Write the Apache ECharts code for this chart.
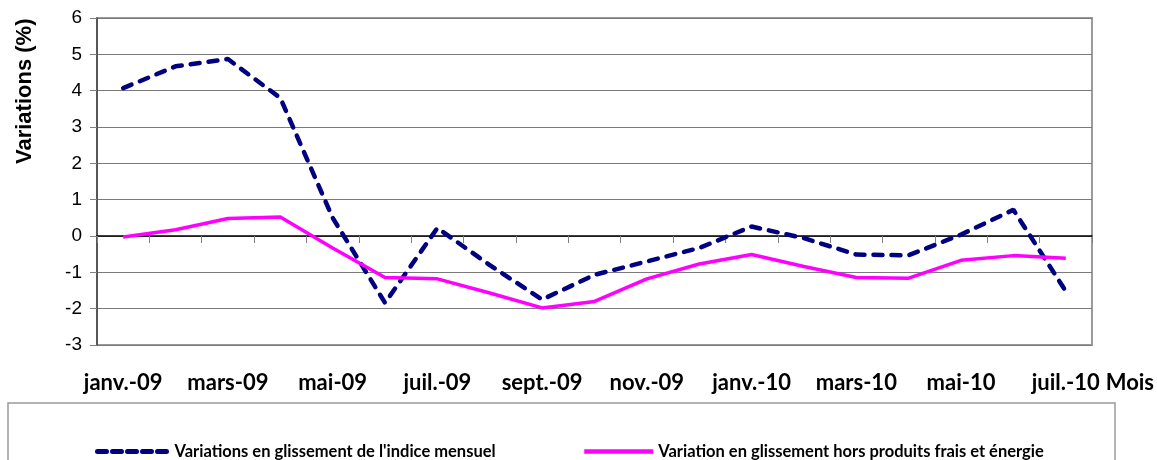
<!DOCTYPE html>
<html>
<head>
<meta charset="utf-8">
<script src="https://cdn.jsdelivr.net/npm/echarts@6/dist/echarts.min.js"></script>
<style>
  html, body { margin: 0; padding: 0; background: #fff; }
  #chart { width: 1157px; height: 460px; }
</style>
</head>
<body>
<div id="chart"></div>
<script>
// mois (axe des abscisses)
const mois = ['janv.-09', 'févr.-09', 'mars-09', 'avr.-09', 'mai-09', 'juin-09', 'juil.-09', 'août-09',
  'sept.-09', 'oct.-09', 'nov.-09', 'déc.-09', 'janv.-10', 'févr.-10', 'mars-10', 'avr.-10',
  'mai-10', 'juin-10', 'juil.-10'];
// glissement de l'indice mensuel (%)
const indiceMensuel = [4.07, 4.67, 4.87, 3.80, 0.50, -1.84, 0.22, -0.80, -1.75, -1.07, -0.70, -0.33,
  0.26, -0.06, -0.51, -0.53, 0.04, 0.72, -1.52];
// glissement hors produits frais et énergie (%)
const horsFraisEnergie = [-0.03, 0.17, 0.48, 0.52, -0.33, -1.14, -1.18, -1.57, -1.98, -1.80, -1.18, -0.77,
  -0.51, -0.84, -1.14, -1.16, -0.67, -0.54, -0.61];

const nomIndice = "Variations en glissement de l'indice mensuel";
const nomHors = 'Variation en glissement hors produits frais et énergie';

const chart = echarts.init(document.getElementById('chart'));
const legendText = { fontFamily: 'Lato', fontWeight: 'bold', fontSize: 16.5, color: '#000' };

chart.setOption({
  backgroundColor: '#fff',
  animation: false,
  grid: {
    left: 97, right: 64, top: 18, bottom: 115,
    show: true, borderColor: '#9a9a9a', borderWidth: 2, backgroundColor: '#fff'
  },
  legend: [
    { data: [nomIndice], left: 90, top: 438, itemWidth: 72, itemHeight: 14, itemGap: 0, itemTextGap: 3,
      itemStyle: { opacity: 0 }, lineStyle: { width: 5, type: [9, 6], cap: 'round' }, textStyle: legendText },
    { data: [nomHors], left: 577, top: 438, itemWidth: 69, itemHeight: 14, itemGap: 0, itemTextGap: 4,
      itemStyle: { opacity: 0 }, lineStyle: { width: 4.5 }, textStyle: legendText }
  ],
  xAxis: [
    {
      type: 'category', data: mois, boundaryGap: true,
      axisLine: { onZero: true, lineStyle: { color: '#000', width: 1.5 } },
      axisTick: { show: true, interval: 0, length: 7, lineStyle: { color: '#808080' } },
      axisLabel: { show: false },
      splitLine: { show: false }
    },
    {
      type: 'category', data: mois, boundaryGap: true, position: 'bottom',
      name: 'Mois', nameLocation: 'end', nameGap: 53,
      nameTextStyle: {
        fontFamily: 'Lato', fontWeight: 'bold', fontSize: 22, color: '#000',
        align: 'right', verticalAlign: 'top', padding: [27, 0, 0, 0]
      },
      axisLine: { show: false, onZero: false },
      axisTick: { show: false },
      axisLabel: {
        interval: 1, margin: 27,
        fontFamily: 'Lato', fontWeight: 'bold', fontSize: 22, color: '#000'
      }
    }
  ],
  yAxis: {
    type: 'value', min: -3, max: 6, interval: 1,
    axisLine: { show: true, lineStyle: { color: '#404040', width: 1.5 } },
    axisTick: { show: true, length: 7, lineStyle: { color: '#808080' } },
    axisLabel: { margin: 15, fontFamily: 'Liberation Sans', fontSize: 19, color: '#000' },
    splitLine: { lineStyle: { color: '#7a7a7a', width: 1.2 } }
  },
  series: [
    {
      name: nomIndice, type: 'line', data: indiceMensuel, xAxisIndex: 0,
      symbol: 'none', smooth: false,
      lineStyle: { color: '#000080', width: 4.5, type: [9, 9], cap: 'round' },
      itemStyle: { color: '#000080' }
    },
    {
      name: nomHors, type: 'line', data: horsFraisEnergie, xAxisIndex: 0,
      symbol: 'none', smooth: false,
      lineStyle: { color: '#ff00ff', width: 3.5 },
      itemStyle: { color: '#ff00ff' }
    }
  ],
  graphic: [
    {
      type: 'text', rotation: Math.PI / 2, x: 14, y: 164,
      style: {
        text: 'Variations (%)', fontFamily: 'Liberation Sans', fontWeight: 'bold', fontSize: 22, fill: '#000'
      }
    },
    {
      type: 'rect', shape: { x: 8, y: 403, width: 1107, height: 80 },
      style: { fill: 'none', stroke: '#9a9a9a', lineWidth: 1.5 }, z: -1
    }
  ]
});
</script>
</body>
</html>
